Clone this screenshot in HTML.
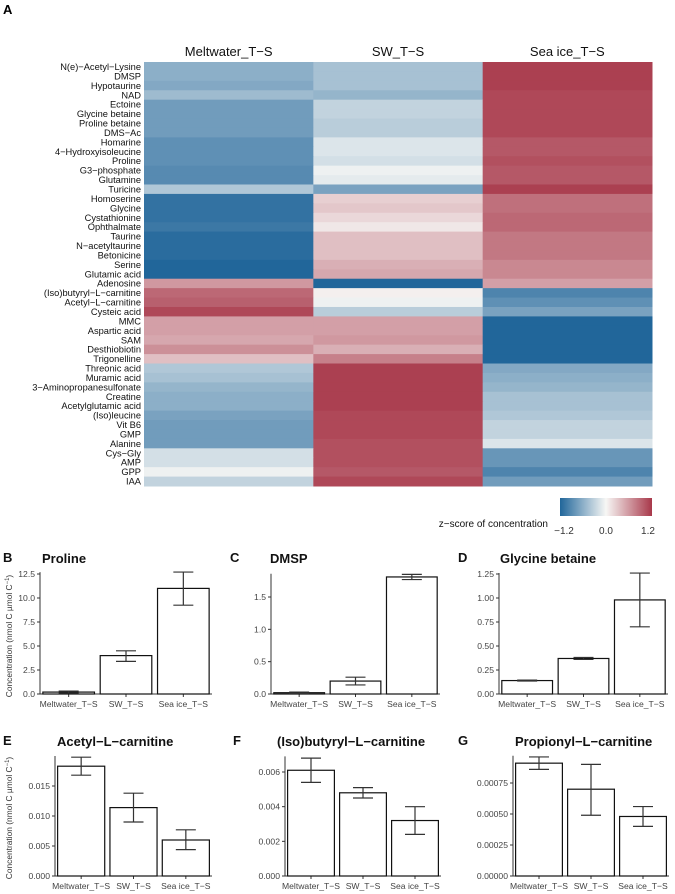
<!DOCTYPE html>
<html><head><meta charset="utf-8">
<style>
html,body{margin:0;padding:0;background:#fff;}
svg{display:block;font-family:"Liberation Sans",Arial,sans-serif;}
</style></head>
<body>
<svg id="fig" width="675" height="894" viewBox="0 0 675 894" xmlns="http://www.w3.org/2000/svg">
<text x="3" y="14" font-size="13" font-weight="bold">A</text>
<g id="heat"></g>
<g id="legend"></g>
<g id="bars"></g>
</svg>
<script>
// ---------- heatmap data ----------
const heatColumns = ["Meltwater_T\u2212S", "SW_T\u2212S", "Sea ice_T\u2212S"];
const heatRows = ["N(e)\u2212Acetyl\u2212Lysine","DMSP","Hypotaurine","NAD","Ectoine","Glycine betaine","Proline betaine","DMS\u2212Ac","Homarine","4\u2212Hydroxyisoleucine","Proline","G3\u2212phosphate","Glutamine","Turicine","Homoserine","Glycine","Cystathionine","Ophthalmate","Taurine","N\u2212acetyltaurine","Betonicine","Serine","Glutamic acid","Adenosine","(Iso)butyryl\u2212L\u2212carnitine","Acetyl\u2212L\u2212carnitine","Cysteic acid","MMC","Aspartic acid","SAM","Desthiobiotin","Trigonelline","Threonic acid","Muramic acid","3\u2212Aminopropanesulfonate","Creatine","Acetylglutamic acid","(Iso)leucine","Vit B6","GMP","Alanine","Cys\u2212Gly","AMP","GPP","IAA"];
const zMeltwater = [-0.6,-0.6,-0.65,-0.5,-0.75,-0.75,-0.75,-0.75,-0.85,-0.85,-0.85,-0.9,-0.9,-0.4,-1.1,-1.1,-1.1,-1.05,-1.15,-1.15,-1.15,-1.2,-1.2,0.6,0.9,0.95,1.1,0.55,0.55,0.5,0.65,0.35,-0.4,-0.45,-0.55,-0.6,-0.6,-0.7,-0.75,-0.75,-0.75,-0.2,-0.2,-0.05,-0.3];
const zSW = [-0.45,-0.45,-0.45,-0.55,-0.3,-0.3,-0.35,-0.35,-0.15,-0.15,-0.2,-0.05,-0.1,-0.7,0.25,0.3,0.2,0.1,0.35,0.35,0.35,0.45,0.5,-1.2,0.05,-0.05,-0.35,0.55,0.55,0.6,0.45,0.75,1.15,1.15,1.15,1.15,1.15,1.1,1.1,1.1,1.05,1.05,1.05,1.0,1.1];
const zSeaIce = [1.15,1.15,1.15,1.1,1.1,1.1,1.1,1.1,1.0,1.0,1.05,1.0,1.0,1.15,0.85,0.85,0.9,0.9,0.8,0.8,0.8,0.7,0.7,0.55,-0.95,-0.85,-0.7,-1.2,-1.2,-1.2,-1.2,-1.2,-0.65,-0.6,-0.55,-0.45,-0.45,-0.4,-0.3,-0.3,-0.15,-0.8,-0.8,-0.95,-0.75];
const legendTicks = [-1.2, 0.0, 1.2];

// ---------- bar data ----------
const barCategories = ["Meltwater_T\u2212S", "SW_T\u2212S", "Sea ice_T\u2212S"];
const prolineMean = [0.2, 4.0, 11.0];
const prolineLow = [0.1, 3.4, 9.25];
const prolineHigh = [0.3, 4.5, 12.7];
const prolineTicks = [0, 2.5, 5, 7.5, 10, 12.5];
const dmspMean = [0.02, 0.2, 1.81];
const dmspLow = [0.01, 0.14, 1.77];
const dmspHigh = [0.03, 0.26, 1.85];
const dmspTicks = [0, 0.5, 1.0, 1.5];
const gbMean = [0.14, 0.37, 0.98];
const gbLow = [0.135, 0.36, 0.70];
const gbHigh = [0.145, 0.38, 1.26];
const gbTicks = [0, 0.25, 0.5, 0.75, 1.0, 1.25];
const alcMean = [0.0183, 0.0114, 0.0060];
const alcLow = [0.0168, 0.0090, 0.0044];
const alcHigh = [0.0198, 0.0138, 0.0077];
const alcTicks = [0, 0.005, 0.010, 0.015];
const iblcMean = [0.0061, 0.0048, 0.0032];
const iblcLow = [0.0054, 0.0045, 0.0024];
const iblcHigh = [0.0068, 0.0051, 0.0040];
const iblcTicks = [0, 0.002, 0.004, 0.006];
const plcMean = [0.00091, 0.00070, 0.00048];
const plcLow = [0.00086, 0.00049, 0.00040];
const plcHigh = [0.00096, 0.00090, 0.00056];
const plcTicks = [0, 0.00025, 0.0005, 0.00075];

const NS = "http://www.w3.org/2000/svg";
function mk(tag, attrs, parent){ const e=document.createElementNS(NS,tag); for(const k in attrs) e.setAttribute(k,attrs[k]); parent.appendChild(e); return e; }

const LOW=[33,102,154], MID=[247,247,245], HIGH=[168,56,74];
function color(z){
  let t=Math.max(-1,Math.min(1,z/1.2)); let a=MID,b=t<0?LOW:HIGH; t=Math.abs(t);
  return "rgb("+a.map((v,i)=>Math.round(v+(b[i]-v)*t)).join(",")+")";
}

// ---------- heatmap ----------
const heat=document.getElementById("heat");
const hx0=144, hx1=652, hy0=62, hy1=486;
const colW=(hx1-hx0)/3, rowH=(hy1-hy0)/heatRows.length;
const zCols=[zMeltwater,zSW,zSeaIce];
heatColumns.forEach((c,j)=>{
  const t=mk("text",{x:hx0+colW*(j+0.5),y:56,"font-size":"13","text-anchor":"middle",fill:"#111"},heat);
  t.textContent=c;
  
  
});
heatRows.forEach((r,i)=>{
  const y=hy0+i*rowH;
  const t=mk("text",{x:141,y:y+rowH/2+3.3,"font-size":"9.3","text-anchor":"end",fill:"#111"},heat);
  t.textContent=r;
  
  
  zCols.forEach((col,j)=>{
    const c=mk("rect",{x:hx0+j*colW,y:y,width:colW+0.5,height:rowH+0.5,fill:color(col[i])},heat);
    
    
  });
});

// ---------- legend ----------
const leg=document.getElementById("legend");
const defs=mk("defs",{},leg);
const grad=mk("linearGradient",{id:"zg",x1:"0",x2:"1",y1:"0",y2:"0"},defs);
[0,0.25,0.5,0.75,1].forEach(p=>mk("stop",{offset:p,"stop-color":color(-1.2+2.4*p)},grad));
const lx0=560, lx1=652;
const bar=mk("rect",{x:lx0,y:498,width:lx1-lx0,height:18,fill:"url(#zg)"},leg);


const lt=mk("text",{x:548,y:527,"font-size":"10","text-anchor":"end",fill:"#111"},leg);
lt.textContent="z\u2212score of concentration";


legendTicks.forEach(v=>{
  const x=lx0+(v+1.2)/2.4*(lx1-lx0-8)+4;
  const t=mk("text",{x:x,y:534,"font-size":"10","text-anchor":"middle",fill:"#333"},leg);
  t.textContent=v.toFixed(1).replace("-","\u2212");
  
  
});

// ---------- bar panels ----------
const barsG=document.getElementById("bars");
function fmt(v,ticks){
  const dec=Math.max(...ticks.map(t=>{const s=String(t);return s.includes(".")?s.split(".")[1].length:0}));
  const d=Math.max(dec, ticks.some(t=>t>0&&t<0.01)?5:dec);
  return v.toFixed(dec<1?1:Math.max(dec,String(ticks[1]).includes(".")?dec:1));
}
function panel(o){
  const g=mk("g",{},barsG);
  
  
  const yS=v=>o.base-(v/o.tickTop)*(o.base-o.tickTopY);
  const L=mk("text",{x:o.lx,y:o.titleY,"font-size":"13","font-weight":"bold",fill:"#111"},g);
  L.textContent=o.letter;
  
  
  const T=mk("text",{x:o.tx,y:o.titleY+1,"font-size":"13","font-weight":"bold",fill:"#111"},g);
  T.textContent=o.title;
  
  
  // axes
  const ax=mk("line",{x1:o.x0,x2:o.x0,y1:o.base,y2:yS(o.axisMax),stroke:"#333","stroke-width":"1"},g);
  
  
  const bx=mk("line",{x1:o.x0,x2:o.x1,y1:o.base,y2:o.base,stroke:"#333","stroke-width":"1"},g);
  
  
  o.ticks.forEach((v,i)=>{
    const y=yS(v);
    mk("line",{x1:o.x0-3,x2:o.x0,y1:y,y2:y,stroke:"#333"},g);
    const t=mk("text",{x:o.x0-5,y:y+3,"font-size":"8.6","text-anchor":"end",fill:"#444"},g);
    t.textContent=o.labels[i];
    
    
  });
  const band=(o.x1-o.x0)/3, bw=band*0.9;
  barCategories.forEach((c,i)=>{
    const cx=o.x0+band*(i+0.5);
    mk("line",{x1:cx,x2:cx,y1:o.base,y2:o.base+3,stroke:"#333"},g);
    const t=mk("text",{x:cx,y:o.base+13,"font-size":"8.6","text-anchor":"middle",fill:"#444"},g);
    t.textContent=c;
    
    
    const r=mk("rect",{x:cx-bw/2,y:yS(o.mean[i]),width:bw,height:o.base-yS(o.mean[i]),fill:"#fff",stroke:"#111","stroke-width":"1.2"},g);
    
    
    const eg=mk("g",{stroke:"#333","stroke-width":"1.2"},g);
    
    
    mk("line",{x1:cx,x2:cx,y1:yS(o.low[i]),y2:yS(o.high[i])},eg);
    mk("line",{x1:cx-10,x2:cx+10,y1:yS(o.low[i]),y2:yS(o.low[i])},eg);
    mk("line",{x1:cx-10,x2:cx+10,y1:yS(o.high[i]),y2:yS(o.high[i])},eg);
  });
  if(o.ylab){
    const t=mk("text",{x:0,y:0,"font-size":"8.4","text-anchor":"middle",fill:"#333",transform:"translate(12,"+o.ylabY+") rotate(-90)"},g);
    t.innerHTML='Concentration (nmol C \u00b5mol C<tspan dy="-3" font-size="6">\u22121</tspan><tspan dy="3">)</tspan>';
    
    
  }
}
const lab=(ticks,d)=>ticks.map(v=>v.toFixed(d));
panel({name:"panel-b-proline",letter:"B",title:"Proline",lx:3,tx:42,titleY:562,x0:40,x1:212,base:694,tickTop:12.5,tickTopY:574,axisMax:12.7,ticks:prolineTicks,labels:lab(prolineTicks,1),mean:prolineMean,low:prolineLow,high:prolineHigh,ylab:true,ylabY:636});
panel({name:"panel-c-dmsp",letter:"C",title:"DMSP",lx:230,tx:270,titleY:562,x0:271,x1:440,base:694,tickTop:1.5,tickTopY:597,axisMax:1.86,ticks:dmspTicks,labels:lab(dmspTicks,1),mean:dmspMean,low:dmspLow,high:dmspHigh});
panel({name:"panel-d-glycine-betaine",letter:"D",title:"Glycine betaine",lx:458,tx:500,titleY:562,x0:499,x1:668,base:694,tickTop:1.25,tickTopY:574,axisMax:1.26,ticks:gbTicks,labels:lab(gbTicks,2),mean:gbMean,low:gbLow,high:gbHigh});
panel({name:"panel-e-acetyl-l-carnitine",letter:"E",title:"Acetyl\u2212L\u2212carnitine",lx:3,tx:57,titleY:745,x0:55,x1:212,base:876,tickTop:0.015,tickTopY:786,axisMax:0.02,ticks:alcTicks,labels:lab(alcTicks,3),mean:alcMean,low:alcLow,high:alcHigh,ylab:true,ylabY:818});
panel({name:"panel-f-isobutyryl-l-carnitine",letter:"F",title:"(Iso)butyryl\u2212L\u2212carnitine",lx:233,tx:277,titleY:745,x0:285,x1:441,base:876,tickTop:0.006,tickTopY:772,axisMax:0.0069,ticks:iblcTicks,labels:lab(iblcTicks,3),mean:iblcMean,low:iblcLow,high:iblcHigh});
panel({name:"panel-g-propionyl-l-carnitine",letter:"G",title:"Propionyl\u2212L\u2212carnitine",lx:458,tx:515,titleY:745,x0:513,x1:669,base:876,tickTop:0.00075,tickTopY:783,axisMax:0.00097,ticks:plcTicks,labels:lab(plcTicks,5),mean:plcMean,low:plcLow,high:plcHigh});
</script>
</body></html>
